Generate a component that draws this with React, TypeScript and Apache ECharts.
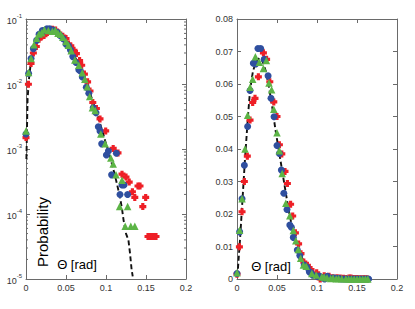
import React, { useEffect, useRef } from "react";
import * as echarts from "echarts";

// ---- data ----
const xTicks = [0, 0.05, 0.1, 0.15, 0.2];
const logMantissas = [2, 3, 4, 5, 6, 7, 8, 9];
const logDecades = [1e-5, 1e-4, 1e-3, 1e-2];

const fitCurve: [number, number][] = [
  [0.0005, 0.0007], [0.002, 0.006], [0.004, 0.013], [0.006, 0.021], [0.008, 0.029],
  [0.010, 0.037], [0.012, 0.044], [0.014, 0.051], [0.016, 0.057], [0.018, 0.061],
  [0.020, 0.064], [0.024, 0.067], [0.028, 0.068], [0.032, 0.067], [0.036, 0.064],
  [0.040, 0.059], [0.044, 0.053], [0.048, 0.046], [0.052, 0.040], [0.056, 0.034],
  [0.060, 0.028], [0.064, 0.022], [0.068, 0.017], [0.072, 0.013], [0.076, 0.0098],
  [0.080, 0.0072], [0.084, 0.0052], [0.088, 0.0037], [0.092, 0.0026], [0.096, 0.0018],
  [0.100, 0.0012], [0.104, 0.00085], [0.108, 0.00055], [0.111, 0.0004], [0.114, 0.00028],
  [0.1175, 0.00018], [0.120, 0.00012], [0.122, 0.00008], [0.125, 0.00005], [0.128, 0.00004],
  [0.130, 0.000025], [0.132, 0.000014], [0.1334, 0.000011],
];

const blueData: [number, number][] = [
  [0, 0.0017], [0.0033, 0.0145], [0.0063, 0.0247], [0.0092, 0.035], [0.0133, 0.0469],
  [0.0163, 0.058], [0.0204, 0.0664], [0.0235, 0.0662], [0.0262, 0.0709], [0.0296, 0.0709],
  [0.034, 0.0676], [0.0388, 0.0625], [0.0425, 0.0556], [0.0463, 0.0499], [0.05, 0.0411],
  [0.053, 0.0386], [0.0555, 0.0335], [0.0585, 0.0264], [0.0625, 0.0214], [0.066, 0.0166],
  [0.068, 0.0159], [0.0704, 0.0128], [0.0754, 0.0089], [0.0785, 0.0072], [0.084, 0.0043],
  [0.0875, 0.0036], [0.0904, 0.0022], [0.0925, 0.0019], [0.0946, 0.0012], [0.1005, 0.00081],
  [0.103, 0.00093], [0.107, 0.0004], [0.1095, 0], [0.113, 0.00086], [0.1175, 0.0002],
  [0.12, 0.00028], [0.1225, 0.00028], [0.127, 0.0002], [0.1305, 0], [0.134, 0],
  [0.1375, 0], [0.141, 0], [0.1445, 0], [0.148, 0], [0.1515, 0], [0.155, 0],
  [0.1585, 0], [0.162, 0], [0.1645, 0],
];

const greenData: [number, number][] = [
  [0, 0.0019], [0.0033, 0.015], [0.0063, 0.0247], [0.01, 0.04], [0.0133, 0.0504],
  [0.0163, 0.059], [0.0196, 0.0615], [0.023, 0.0684], [0.028, 0.0667], [0.033, 0.0648],
  [0.0367, 0.0672], [0.04, 0.0603], [0.0433, 0.0582], [0.046, 0.0522], [0.05, 0.045],
  [0.053, 0.0395], [0.0565, 0.0325], [0.061, 0.0233], [0.066, 0.0195], [0.0704, 0.0149],
  [0.0735, 0.0118], [0.0766, 0.0091], [0.0796, 0.0064], [0.083, 0.0043], [0.0865, 0.0039],
  [0.0935, 0.0017], [0.099, 0.0012], [0.106, 0.00073], [0.109, 0.00059], [0.1125, 0.0004],
  [0.117, 0.00013], [0.12, 0.00033], [0.124, 0.000065], [0.127, 0.00013], [0.131, 0.000065],
  [0.136, 0.000065], [0.1395, 0], [0.143, 0], [0.1465, 0], [0.15, 0], [0.1535, 0],
  [0.157, 0], [0.1605, 0], [0.1635, 0],
];

const redData: [number, number][] = [
  [0, 0.0015], [0.003, 0.0099], [0.0063, 0.0207], [0.0092, 0.03], [0.0129, 0.0378],
  [0.0163, 0.0489], [0.0196, 0.0543], [0.0225, 0.0556], [0.0267, 0.0622], [0.033, 0.0696],
  [0.037, 0.0676], [0.041, 0.0607], [0.046, 0.0545], [0.05, 0.05], [0.053, 0.0413],
  [0.056, 0.0385], [0.06, 0.0331], [0.063, 0.0294], [0.067, 0.023], [0.0696, 0.0194],
  [0.073, 0.0142], [0.077, 0.0108], [0.08, 0.0078], [0.0835, 0.0052], [0.088, 0.0042],
  [0.0925, 0.0029], [0.0996, 0.0019], [0.104, 0], [0.109, 0.00102], [0.115, 0.00087],
  [0.12, 0.00041], [0.125, 0.00037], [0.129, 0.00031], [0.133, 0.00022], [0.136, 0.00018],
  [0.14, 0.00027], [0.1425, 0.00027], [0.146, 0.00013], [0.1496, 0.00018], [0.1525, 0.000045],
  [0.155, 0.000045], [0.158, 0.000045], [0.16, 0.000045], [0.1625, 0.000045],
];

const AXIS = "#6a6a6a";
const LABEL = "#333";
const FONT = "'Liberation Sans', Arial, sans-serif";
const BLUE = "#2f4f9f";
const GREEN = "#5cb446";
const RED = "#ee1f26";
const PLUS = "path://M2.2,0h3.6v2.2h2.2v3.6h-2.2v2.2h-3.6v-2.2h-2.2v-3.6h2.2z";

export default function App() {
  const ref = useRef<HTMLDivElement>(null);
  useEffect(() => {
    if (!ref.current) return;
    const chart = echarts.init(ref.current, undefined, { renderer: "svg" });

    const minorLog: [number, number][] = [];
    logDecades.forEach((d) => logMantissas.forEach((m) => minorLog.push([0, m * d])));

    const lineStyle = { color: AXIS, width: 1 };
    const xLabel = {
      show: true, color: LABEL, fontSize: 9, fontFamily: FONT, margin: 4,
      formatter: (v: number) => String(+v.toFixed(2)),
    };
    const mkX = (gi: number, pos: "top" | "bottom", label: boolean) => ({
      gridIndex: gi, type: "value" as const, min: xTicks[0], max: xTicks[xTicks.length - 1], interval: 0.05, position: pos,
      axisLine: { show: true, onZero: false, lineStyle },
      axisTick: { show: true, inside: true, length: 4, lineStyle },
      axisLabel: label ? xLabel : { show: false },
      splitLine: { show: false },
    });
    const logLabel = {
      show: true, color: LABEL, fontFamily: FONT, margin: 4,
      formatter: (v: number) => `{b|10}{s|${Math.round(Math.log10(v))}}`,
      rich: {
        b: { fontSize: 9, fontFamily: FONT, color: LABEL, verticalAlign: "bottom", lineHeight: 13 },
        s: { fontSize: 6, fontFamily: FONT, color: LABEL, verticalAlign: "top", lineHeight: 13 },
      },
    };
    const mkLogY = (pos: "left" | "right", label: boolean) => ({
      gridIndex: 0, type: "log" as const, logBase: 10, min: 1e-5, max: 0.1, position: pos,
      axisLine: { show: true, onZero: false, lineStyle },
      axisTick: { show: true, inside: true, length: 4, lineStyle },
      axisLabel: label ? logLabel : { show: false },
      splitLine: { show: false },
    });
    const mkLinY = (pos: "left" | "right", label: boolean) => ({
      gridIndex: 1, type: "value" as const, min: 0, max: 0.08, interval: 0.01, position: pos,
      axisLine: { show: true, onZero: false, lineStyle },
      axisTick: { show: true, inside: true, length: 4, lineStyle },
      axisLabel: label
        ? { show: true, color: LABEL, fontSize: 9, fontFamily: FONT, margin: 4,
            formatter: (v: number) => (v === 0 ? "0" : v.toFixed(2)) }
        : { show: false },
      splitLine: { show: false },
    });

    const nonZero = (d: [number, number][]) => d.filter((p) => p[1] > 0);
    const scatter = (data: [number, number][], xi: number, yi: number, symbol: string, size: number, color: string) => ({
      type: "scatter" as const, xAxisIndex: xi, yAxisIndex: yi, data, symbol, symbolSize: size,
      itemStyle: { color, opacity: 1 }, z: 3,
    });
    const fit = (xi: number, yi: number) => ({
      type: "line" as const, xAxisIndex: xi, yAxisIndex: yi, data: fitCurve, showSymbol: false,
      lineStyle: { color: "#111", width: 1.9, type: [5, 3] as number[] }, z: 2, silent: true,
    });

    chart.setOption({
      animation: false,
      grid: [
        { left: 26, top: 19, width: 160, height: 260 },
        { left: 237, top: 19, width: 160, height: 260 },
      ],
      xAxis: [mkX(0, "bottom", true), mkX(0, "top", false), mkX(1, "bottom", true), mkX(1, "top", false)],
      yAxis: [mkLogY("left", true), mkLogY("right", false), mkLinY("left", true), mkLinY("right", false)],
      series: [
        fit(0, 0),
        scatter(nonZero(redData), 0, 0, PLUS, 7, RED),
        scatter(nonZero(blueData), 0, 0, "circle", 7, BLUE),
        scatter(nonZero(greenData), 0, 0, "triangle", 7.5, GREEN),
        fit(2, 2),
        scatter(redData, 2, 2, PLUS, 7, RED),
        scatter(blueData, 2, 2, "circle", 7, BLUE),
        scatter(greenData, 2, 2, "triangle", 7.5, GREEN),
        {
          type: "custom", xAxisIndex: 0, yAxisIndex: 0, data: minorLog, silent: true, z: 1,
          renderItem: (params: any, api: any) => {
            const cs = params.coordSys;
            const p = api.coord([0, api.value(1)]);
            const y = p[1];
            return {
              type: "group",
              children: [
                { type: "line", shape: { x1: cs.x, y1: y, x2: cs.x + 2, y2: y }, style: { stroke: AXIS, lineWidth: 1 } },
                { type: "line", shape: { x1: cs.x + cs.width - 2, y1: y, x2: cs.x + cs.width, y2: y }, style: { stroke: AXIS, lineWidth: 1 } },
              ],
            };
          },
        },
      ],
      graphic: [
        {
          type: "text", x: 42, y: 232, rotation: Math.PI / 2,
          style: { text: "Probability", fontSize: 15, fontFamily: FONT, fill: "#000", align: "center", verticalAlign: "middle" },
        },
        {
          type: "text", x: 77, y: 264,
          style: { text: "Θ [rad]", fontSize: 13, fontFamily: FONT, fill: "#000", align: "center", verticalAlign: "middle" },
        },
        {
          type: "text", x: 271, y: 266,
          style: { text: "Θ [rad]", fontSize: 13, fontFamily: FONT, fill: "#000", align: "center", verticalAlign: "middle" },
        },
      ],
    });
    return () => chart.dispose();
  }, []);
  return <div ref={ref} style={{ position: "absolute", left: 0, top: 0, width: 415, height: 309 }} />;
}
